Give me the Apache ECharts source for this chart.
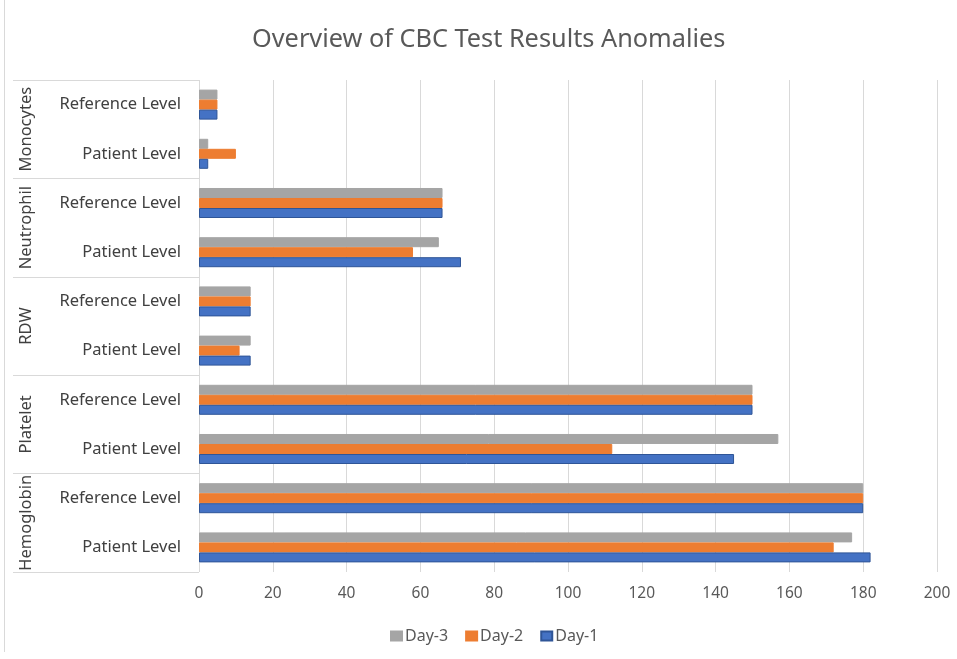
<!DOCTYPE html>
<html>
<head>
<meta charset="utf-8">
<script src="https://cdn.jsdelivr.net/npm/echarts@6/dist/echarts.min.js"></script>
<style>
  html,body{margin:0;padding:0;background:#fff;}
  #chart{width:957px;height:659px;}
</style>
</head>
<body>
<div id="chart"></div>
<script>
/* CBC anomalies - clustered horizontal bars */

const groups = ["Hemoglobin","Platelet","RDW","Neutrophil","Monocytes"];

const levels = [
    "Patient Level","Reference Level",
    "Patient Level","Reference Level",
    "Patient Level","Reference Level",
    "Patient Level","Reference Level",
    "Patient Level","Reference Level"
];

const day1 = [182,180,145,150,14,14,71,66,2.5,5];
const day2 = [172,180,112,150,11,14,58,66,10,5];
const day3 = [177,180,157,150,14,14,65,66,2.5,5];

const xTicks = [0,200,20];

const chart = echarts.init(document.getElementById("chart"));

const font = "Noto Sans";

function barSeries(name,data,color,border){

    return {
        name:name,
        type:"bar",
        yAxisIndex:0,
        data:data,
        barGap:"0%",
        barCategoryGap:"39%",
        itemStyle:{
            color:color,
            borderColor:border,
            borderWidth:1
        }
    };

}

const option = {

    animation:false,

    title:{
        text:"Overview of CBC Test Results Anomalies",
        left:247,
        top:22,
        textStyle:{
            fontFamily:font,
            fontSize:25.3,
            fontWeight:"normal",
            color:"#595959"
        }
    },

    legend:{
        data:["Day-3","Day-2","Day-1"],
        bottom:10,
        left:385,
        itemWidth:11,
        itemHeight:9,
        itemGap:17,
        icon:"rect",
        textStyle:{
            fontFamily:font,
            fontSize:16,
            color:"#595959",
            padding:[0,0,0,-2]
        }
    },

    grid:{
        left:199,
        right:20,
        top:80,
        bottom:87,
        containLabel:false
    },

    xAxis:{
        type:"value",
        min:xTicks[0],
        max:xTicks[1],
        interval:xTicks[2],
        axisLine:{show:false},
        axisTick:{show:false},
        axisLabel:{
            margin:14,
            fontFamily:font,
            fontSize:15.5,
            color:"#595959"
        },
        splitLine:{
            lineStyle:{color:"#d9d9d9",width:1}
        }
    },

    yAxis:[
        {
            type:"category",
            data:levels,
            axisLine:{show:false},
            axisTick:{show:false},
            axisLabel:{
                interval:0,
                margin:18,
                fontFamily:font,
                fontSize:16.5,
                color:"#404040"
            }
        },
        {
            type:"category",
            position:"left",
            data:groups,
            axisLine:{show:false},
            axisTick:{
                show:true,
                interval:0,
                length:186,
                lineStyle:{color:"#d9d9d9",width:1}
            },
            axisLabel:{
                interval:0,
                rotate:90,
                margin:164,
                fontFamily:font,
                fontSize:16.5,
                color:"#404040"
            },
            splitLine:{show:false}
        }
    ],

    graphic:[{
        type:"line",
        shape:{x1:4.5,y1:0,x2:4.5,y2:652},
        style:{stroke:"#d9d9d9",lineWidth:1}
    }],

    // series 0 sits at the top of each band, so Day-3 goes first
    series:[
        barSeries("Day-3",day3,"#A5A5A5","#A5A5A5"),
        barSeries("Day-2",day2,"#ED7D31","#ED7D31"),
        barSeries("Day-1",day1,"#4472C4","#2F5597")
    ]

};

chart.setOption(option);
</script>
</body>
</html>
